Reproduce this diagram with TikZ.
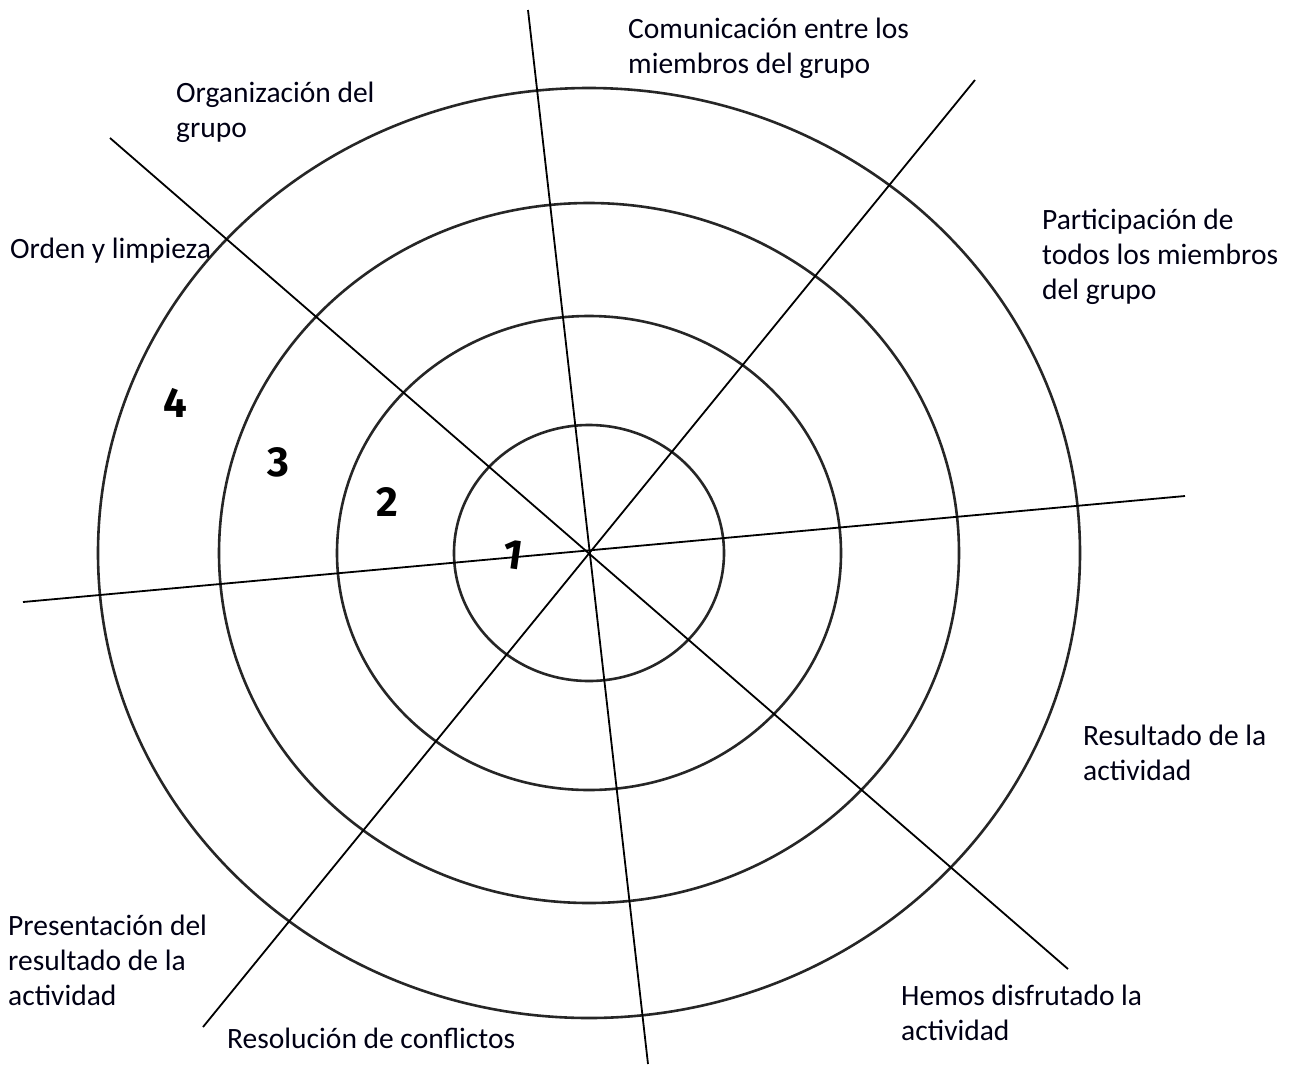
\documentclass[tikz,border=0pt]{standalone}
\usepackage{fontspec}
\setmainfont{Carlito}
\newfontfamily\digitfont{Fira Sans}
\begin{document}
\begin{tikzpicture}[x=1pt,y=-1pt,
  ring/.style={draw=black!85, line width=2.6pt},
  spoke/.style={draw=black, line width=1.8pt},
  lbl/.style={anchor=base west, inner sep=0pt, align=left, text=black!92!blue,
    font=\fontsize{29.5}{35}\selectfont},
  num/.style={inner sep=0pt, font=\digitfont\bfseries\fontsize{42}{42}\selectfont}]
\useasboundingbox (0,0) rectangle (1293,1066);
\coordinate (c) at (589,553);
% rings
\draw[ring] (c) ellipse [x radius=491, y radius=465];
\draw[ring] (c) ellipse [x radius=370, y radius=350];
\draw[ring] (c) ellipse [x radius=252, y radius=237];
\draw[ring] (c) ellipse [x radius=135, y radius=128];
% spoke ends
\coordinate (vT) at (528,10);
\coordinate (vB) at (648,1064);
\coordinate (aT) at (975,80);
\coordinate (aB) at (203,1027);
\coordinate (bT) at (110,138);
\coordinate (bB) at (1068,969);
\coordinate (hL) at (23,602);
\coordinate (hR) at (1185,496);
\draw[spoke] (vT) -- (vB);
\draw[spoke] (aT) -- (aB);
\draw[spoke] (bT) -- (bB);
\draw[spoke] (hL) -- (hR);
% labels (base = baseline of last line)
\node[lbl] (comunicacion) at (628,73) {Comunicación entre los\\miembros del grupo};
\node[lbl] (organizacion) at (176,137) {Organización del\\grupo};
\node[lbl] (orden) at (10,258) {Orden y limpieza};
\node[lbl] (participacion) at (1042,299) {Participación de\\todos los miembros\\del grupo};
\node[lbl] (resultado) at (1083,780) {Resultado de la\\actividad};
\node[lbl] (presentacion) at (8,1005) {Presentación del\\resultado de la\\actividad};
\node[lbl] (resolucion) at (227,1048) {Resolución de conflictos};
\node[lbl] (hemos) at (901,1040) {Hemos disfrutado la\\actividad};
% numbers
\node[num] (n4) at (175,403) {4};
\node[num] (n3) at (278,462) {3};
\node[num] (n2) at (387,502) {2};
\node[num,rotate=-8] (n1) at (513,555) {1};
\end{tikzpicture}
\end{document}
